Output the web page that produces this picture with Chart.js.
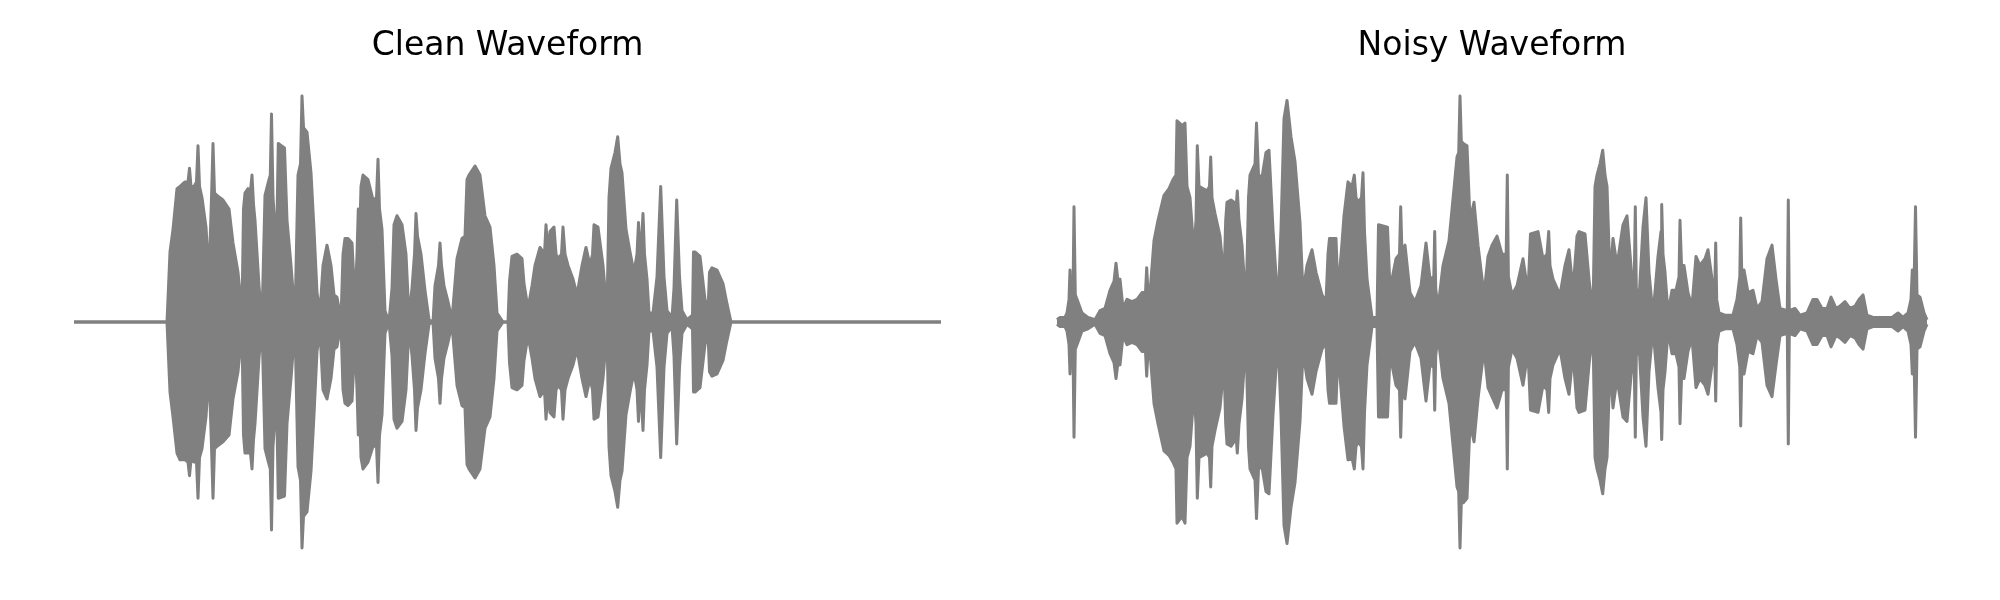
<!DOCTYPE html>
<html>
<head>
<meta charset="utf-8">
<script src="https://cdn.jsdelivr.net/npm/chart.js"></script>
<style>
  body { margin: 0; background: #fff; }
  .box { position: absolute; top: 0; width: 1000px; height: 600px; }
</style>
</head>
<body>
<div class="box" style="left:0"><canvas id="clean" width="1000" height="600"></canvas></div>
<div class="box" style="left:1000px"><canvas id="noisy" width="1000" height="600"></canvas></div>
<script>
// envelope of each waveform: time position, upper peak, lower peak
var cleanT = [0, 93, 96, 99, 103, 106, 111, 114, 115.5, 117,
  120, 122.5, 124, 125.5, 128, 132, 135, 137.5, 139, 140.5,
  143, 149, 155, 159, 164, 168, 169.5, 171, 174, 176.5,
  178, 179.5, 181, 185, 188, 191, 195, 196.3, 197.5, 199,
  201, 203, 204.3, 210.5, 213, 217, 221, 224, 226.5, 228,
  229.5, 233, 237, 240, 243, 246, 249, 253, 257, 260,
  263, 267, 269, 271, 274, 278, 281, 283, 284.3, 285.5,
  287, 289, 294, 299, 302.5, 304, 305.5, 308, 311, 315,
  318, 320, 323, 328, 332, 335, 338, 340.5, 342, 343.5,
  347, 351, 355, 359, 361, 364.5, 366, 367.5, 370, 374,
  378, 383, 388, 391, 393, 395, 401, 406, 411, 416,
  420, 423, 429, 434, 435.5, 438, 443, 448, 450, 454,
  458, 461, 466, 470.5, 472, 474, 476, 480, 482, 484,
  487.5, 489, 491, 494, 499, 503, 508, 512, 516, 518.5,
  520, 524, 529, 533, 535, 537, 541, 543.7, 546, 548,
  552, 556, 560, 563, 564.5, 566, 567.5, 569, 570.5, 573,
  575, 579, 583, 586.7, 590, 593, 598, 600, 602.7, 605.5,
  608, 613, 618.5, 619.5, 621, 626, 631, 634, 635.5, 638,
  643, 649, 653, 657, 867];
var cleanHi = [0, 0, .31, .41, .59, .60, .62, .62, .68, .60,
  .60, .62, .78, .60, .55, .42, .20, .55, .79, .57,
  .56, .54, .50, .35, .22, .04, .50, .57, .59, .58,
  .65, .52, .45, .16, .01, .56, .63, .65, .92, .55,
  .42, .45, .79, .77, .45, .25, .02, .65, .70, 1.0,
  .86, .84, .66, .41, .13, .04, .25, .34, .25, .12,
  .11, .01, .30, .37, .37, .35, .08, .30, .50, .35,
  .60, .65, .63, .54, .55, .72, .50, .41, .05, 0,
  .15, .43, .47, .43, .30, .02, .15, .30, .48, .38,
  .30, .14, .01, 0, .16, .25, .35, .25, .16, .09,
  .01, .28, .37, .38, .63, .65, .69, .65, .47, .42,
  .25, .04, 0, 0, .18, .29, .30, .28, .17, .06,
  .16, .25, .33, .30, .43, .30, .40, .42, .30, .28,
  .30, .42, .30, .25, .19, .12, .25, .33, .25, .30,
  .43, .42, .25, .04, .55, .68, .75, .82, .70, .66,
  .41, .31, .22, .30, .44, .30, .35, .48, .30, .19,
  .04, .04, .20, .60, .20, .05, .02, .15, .54, .20,
  .05, .01, .03, .31, .31, .29, .10, .05, .22, .24,
  .23, .17, .08, 0, 0];
var cleanLo = [0, 0, -.31, -.42, -.58, -.61, -.61, -.62, -.68, -.61,
  -.62, -.62, -.78, -.60, -.56, -.42, -.21, -.55, -.78, -.56,
  -.55, -.53, -.50, -.34, -.22, -.04, -.50, -.58, -.58, -.58,
  -.65, -.52, -.45, -.16, -.01, -.56, -.63, -.65, -.92, -.55,
  -.42, -.45, -.78, -.77, -.45, -.25, -.02, -.64, -.70, -1.0,
  -.86, -.84, -.66, -.41, -.13, -.04, -.30, -.34, -.25, -.12,
  -.11, -.01, -.30, -.36, -.37, -.35, -.08, -.30, -.50, -.35,
  -.60, -.65, -.62, -.55, -.55, -.71, -.50, -.41, -.05, 0,
  -.15, -.43, -.47, -.44, -.30, -.02, -.15, -.30, -.48, -.38,
  -.30, -.14, -.01, 0, -.16, -.25, -.36, -.25, -.16, -.09,
  -.01, -.28, -.37, -.38, -.63, -.65, -.69, -.65, -.47, -.42,
  -.25, -.04, 0, 0, -.18, -.29, -.30, -.28, -.17, -.06,
  -.16, -.25, -.33, -.30, -.43, -.30, -.40, -.42, -.30, -.28,
  -.30, -.43, -.30, -.25, -.19, -.12, -.25, -.33, -.25, -.30,
  -.43, -.42, -.25, -.04, -.55, -.68, -.75, -.82, -.70, -.66,
  -.41, -.31, -.22, -.30, -.44, -.30, -.35, -.48, -.30, -.19,
  -.04, -.04, -.20, -.60, -.20, -.05, -.02, -.15, -.54, -.20,
  -.05, -.01, -.03, -.31, -.31, -.29, -.10, -.05, -.22, -.24,
  -.23, -.17, -.08, 0, 0];

var noisyT = [0, 3, 8, 10, 12, 13, 14, 16, 17, 18.3,
  20, 25, 31, 38, 43, 48, 53, 57, 59, 61,
  63, 66, 70, 75, 80, 85, 88.5, 89.7, 91, 93,
  97, 101, 107, 112, 116, 119, 120, 125, 128, 130,
  133, 137, 139, 140.3, 142, 146, 150, 152.5, 153.7, 155,
  158, 163, 167, 168.7, 170, 174, 177, 179, 180.3, 182,
  185, 189, 191.5, 193, 198, 199.5, 201.5, 205, 209, 212,
  216, 221, 224, 227, 230, 234, 238, 243, 246, 250,
  255, 259, 265, 269, 271, 272.5, 279, 281, 285, 287,
  291, 295, 297.3, 299, 301, 304.5, 306, 307.5, 310, 315,
  320, 321.5, 330.5, 332.5, 335, 339, 342.5, 343.7, 345, 348,
  353, 358, 364, 369, 373, 376.8, 377.7, 378.7, 381, 386,
  392, 397, 400, 401.7, 403, 404.3, 406.3, 410, 413, 417,
  421, 427, 431, 435, 440, 445, 449.2, 450.3, 451.4, 455,
  460, 466, 471, 473.5, 481, 486, 490, 491.7, 493, 496,
  503, 508, 512, 516, 520, 522, 528, 532, 536, 538,
  540, 543, 545.7, 548, 550, 553, 556, 560, 566, 570,
  575, 577.3, 578.3, 579.3, 582, 586, 589, 592, 596, 601,
  604, 604.7, 606, 608, 611, 615, 619, 622, 623, 624.5,
  627, 631, 635, 639, 643, 648, 651, 655, 657.8, 658.7,
  659.7, 662, 668, 676, 680, 682.8, 683.7, 684.8, 687, 691,
  696, 700, 705, 710, 715, 719, 723, 730.3, 731.3, 732.3,
  738, 743, 750, 756, 760, 765, 770, 774, 779, 783,
  788, 793, 798, 802, 806, 810, 816, 826, 835, 841,
  846, 851, 854, 855.3, 857, 858.5, 860, 863, 867, 870];
var noisyHi = [.01, .02, .02, .04, .10, .23, .10, .12, .51, .12,
  .10, .04, .02, .01, .05, .06, .14, .18, .26, .18,
  .19, .06, .10, .09, .10, .13, .13, .24, .13, .13,
  .36, .45, .56, .59, .63, .65, .89, .87, .88, .60,
  .55, .31, .45, .78, .60, .59, .58, .60, .73, .55,
  .48, .38, .19, .45, .53, .54, .53, .50, .58, .45,
  .34, .07, .55, .65, .70, .88, .65, .64, .75, .76,
  .41, .07, .41, .90, .98, .82, .71, .44, .13, .25,
  .32, .22, .12, .09, .30, .37, .37, .13, .35, .47,
  .62, .60, .65, .55, .53, .55, .66, .40, .19, .02,
  .02, .43, .42, .20, .19, .28, .30, .51, .30, .34,
  .13, .09, .16, .35, .19, .20, .40, .15, .06, .25,
  .36, .59, .73, .75, 1.0, .80, .79, .78, .45, .53,
  .34, .12, .29, .34, .38, .30, .30, .65, .20, .12,
  .16, .28, .13, .39, .40, .28, .30, .40, .25, .19,
  .12, .25, .32, .14, .38, .40, .39, .19, .04, .60,
  .65, .70, .76, .65, .60, .19, .37, .25, .43, .47,
  .19, .20, .51, .15, .10, .42, .55, .22, .03, .29,
  .40, .52, .30, .22, .04, .14, .14, .20, .45, .25,
  .25, .13, .07, .29, .25, .28, .32, .19, .15, .35,
  .10, .04, .03, .03, .10, .20, .46, .20, .23, .13,
  .14, .06, .09, .28, .34, .19, .06, .05, .54, .05,
  .06, .03, .04, .10, .10, .06, .06, .11, .06, .07,
  .09, .06, .07, .10, .12, .03, .02, .02, .02, .04,
  .02, .04, .10, .23, .15, .51, .12, .11, .04, .01];
var noisyLo = [-.01, -.02, -.02, -.04, -.10, -.23, -.10, -.12, -.51, -.12,
  -.10, -.04, -.03, -.01, -.05, -.06, -.14, -.18, -.25, -.18,
  -.19, -.06, -.10, -.09, -.10, -.13, -.13, -.24, -.13, -.13,
  -.36, -.45, -.57, -.59, -.62, -.65, -.89, -.86, -.89, -.60,
  -.55, -.31, -.45, -.78, -.60, -.59, -.58, -.60, -.73, -.55,
  -.48, -.38, -.19, -.45, -.54, -.55, -.53, -.50, -.58, -.45,
  -.34, -.07, -.55, -.65, -.70, -.87, -.65, -.64, -.75, -.76,
  -.41, -.07, -.41, -.90, -.98, -.82, -.71, -.44, -.13, -.25,
  -.32, -.22, -.12, -.09, -.30, -.36, -.36, -.13, -.35, -.46,
  -.61, -.60, -.65, -.55, -.53, -.55, -.65, -.40, -.19, -.02,
  -.02, -.42, -.42, -.20, -.19, -.28, -.30, -.51, -.30, -.34,
  -.13, -.09, -.16, -.35, -.19, -.20, -.39, -.15, -.06, -.25,
  -.36, -.59, -.73, -.75, -1.0, -.80, -.80, -.78, -.45, -.53,
  -.34, -.12, -.29, -.33, -.38, -.30, -.30, -.65, -.20, -.12,
  -.16, -.28, -.13, -.39, -.40, -.28, -.30, -.40, -.25, -.19,
  -.12, -.25, -.32, -.14, -.38, -.40, -.39, -.19, -.04, -.60,
  -.65, -.70, -.76, -.65, -.60, -.19, -.38, -.25, -.42, -.44,
  -.19, -.20, -.51, -.15, -.10, -.42, -.55, -.22, -.03, -.29,
  -.40, -.52, -.30, -.22, -.04, -.14, -.14, -.20, -.45, -.25,
  -.25, -.13, -.07, -.29, -.25, -.28, -.32, -.19, -.15, -.35,
  -.10, -.04, -.03, -.03, -.10, -.20, -.46, -.20, -.23, -.13,
  -.14, -.06, -.09, -.28, -.33, -.19, -.06, -.05, -.54, -.05,
  -.06, -.03, -.04, -.10, -.10, -.06, -.06, -.11, -.06, -.07,
  -.09, -.06, -.07, -.10, -.12, -.03, -.02, -.02, -.02, -.04,
  -.02, -.04, -.10, -.23, -.15, -.51, -.12, -.11, -.04, -.01];

var gray = '#808080';

function toPoints(t, v) {
  return t.map((x, i) => ({x: x, y: v[i]}));
}

function waveLine(points, fill) {
  return {
    data: points,
    borderColor: gray,
    backgroundColor: gray,
    borderWidth: 3,
    borderJoinStyle: 'round',
    pointRadius: 0,
    tension: 0,
    fill: fill,
    clip: false
  };
}

function drawWave(id, title, t, hi, lo, padLeft, padRight) {
  var ctx = document.getElementById(id).getContext('2d');
  return new Chart(ctx, {
    type: 'line',
    data: {
      datasets: [
        waveLine(toPoints(t, hi), '+1'),  // fill down to the lower envelope
        waveLine(toPoints(t, lo), false)
      ]
    },
    options: {
      responsive: false,
      animation: false,
      layout: { padding: { left: padLeft, right: padRight, top: 0, bottom: 52 } },
      scales: {
        x: { type: 'linear', display: false, min: 0, max: t[t.length - 1] },
        y: { display: false, min: -1, max: 1 }
      },
      plugins: {
        legend: { display: false },
        tooltip: { enabled: false },
        title: {
          display: true,
          text: title,
          color: '#000',
          font: { family: 'DejaVu Sans', size: 33, weight: 'normal' },
          padding: { top: 27, bottom: 29.4 }
        }
      }
    }
  });
}

drawWave('clean', 'Clean Waveform', cleanT, cleanHi, cleanLo, 74, 59);
drawWave('noisy', 'Noisy Waveform', noisyT, noisyHi, noisyLo, 57, 73);
</script>
</body>
</html>
